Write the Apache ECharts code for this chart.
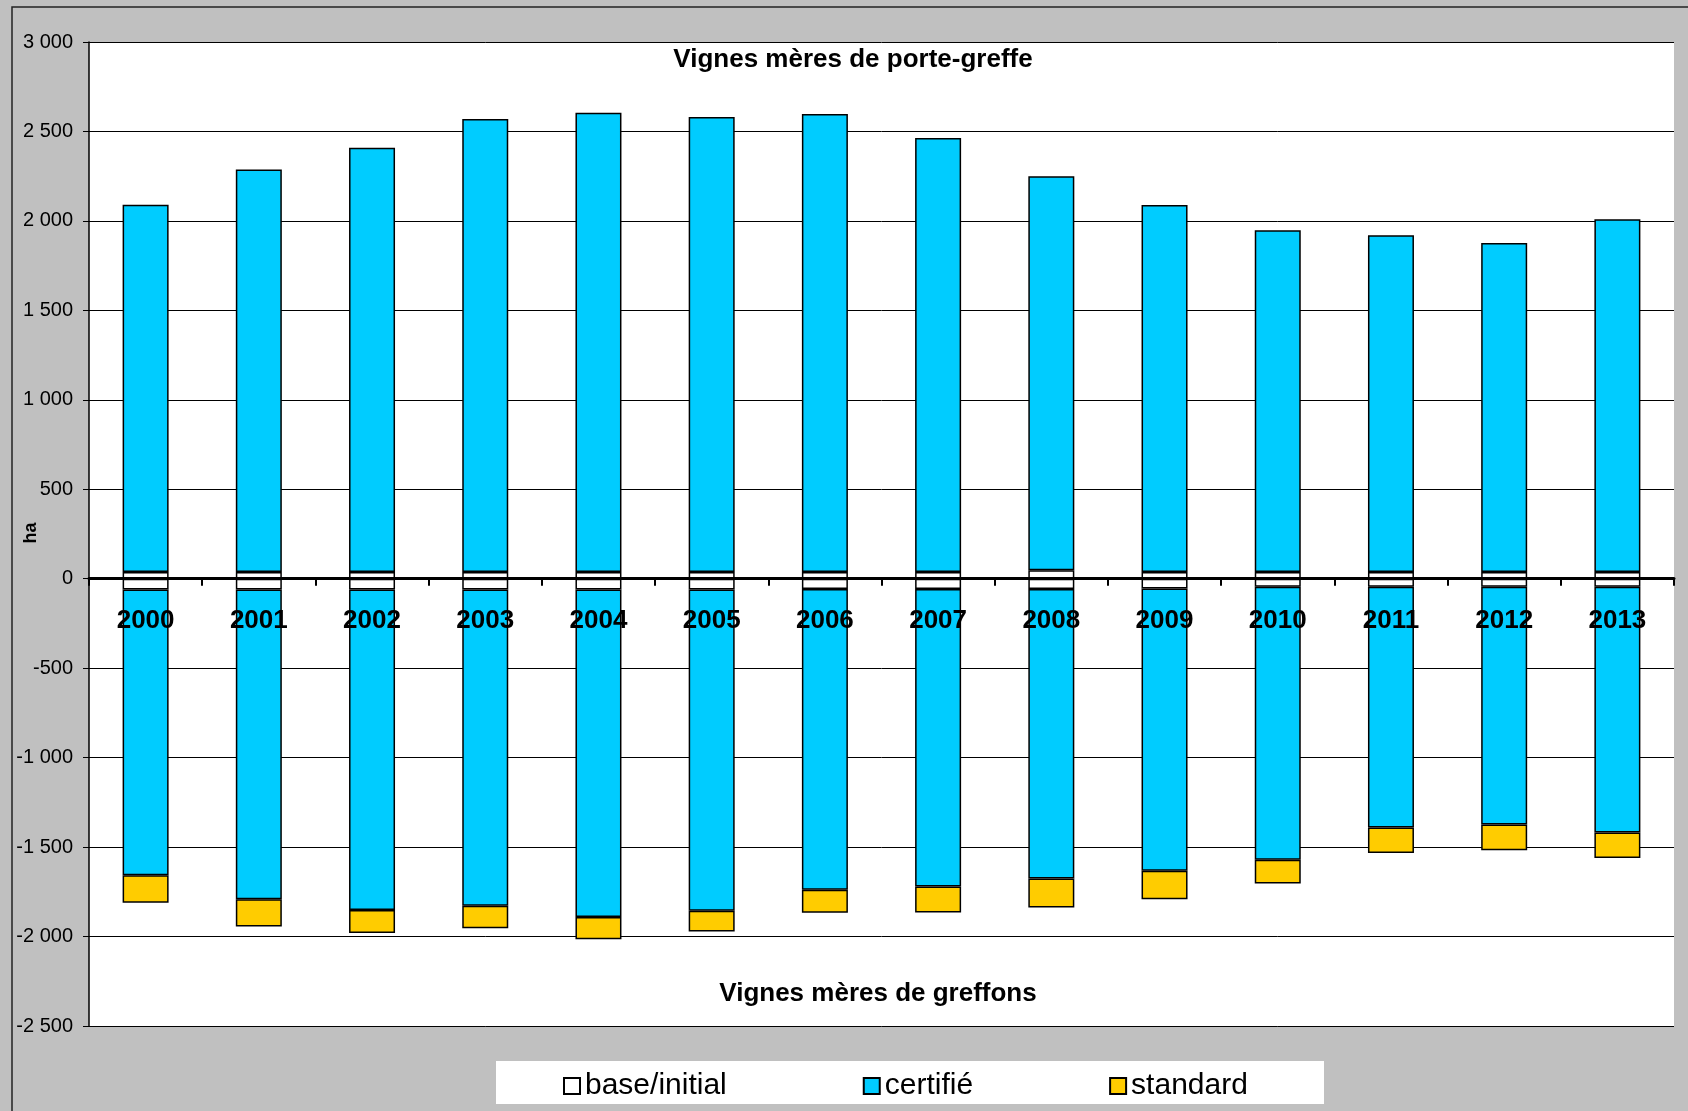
<!DOCTYPE html>
<html>
<head>
<meta charset="utf-8">
<script src="https://cdn.jsdelivr.net/npm/echarts@6/dist/echarts.min.js"></script>
<style>html,body{margin:0;padding:0;background:#c0c0c0}#c{width:1688px;height:1111px}</style>
</head>
<body>
<div id="c"></div>
<script>
var years = ['2000','2001','2002','2003','2004','2005','2006','2007','2008','2009','2010','2011','2012','2013'];
// Vignes mères de porte-greffe (positive)
var basePos = [38,38,38,38,38,38,38,38,48,38,38,38,38,38];
var certPos = [2053,2249,2371,2532,2567,2543,2560,2425,2202,2051,1910,1882,1838,1971];
// Vignes mères de greffons (negative)
var baseNeg = [-60,-60,-60,-60,-60,-60,-58,-58,-58,-55,-45,-45,-45,-45];
var certNeg = [-1598,-1731,-1792,-1768,-1831,-1796,-1681,-1662,-1618,-1577,-1526,-1346,-1329,-1374];
var stdNeg = [-153,-153,-128,-126,-124,-116,-128,-145,-161,-160,-133,-142,-143,-142];
var yTicks = {min:-2500, max:3000, interval:500};

var FONT = '"Liberation Sans", Arial, sans-serif';
function fmt(v){ var s = Math.abs(v).toString().replace(/\B(?=(\d{3})+(?!\d))/g,' '); return (v<0?'-':'') + s; }

var GRID = {left:89, right:14, top:42, bottom:85};
var plotH = 1111 - GRID.top - GRID.bottom;
// distance from plot bottom to the zero line, derived from the axis range
var zeroOffset = plotH * (0 - yTicks.min) / (yTicks.max - yTicks.min);

var chart = echarts.init(document.getElementById('c'), null, {renderer:'canvas'});
var border = {borderColor:'#000', borderWidth:1.5};
function bar(name, data, color){
  return {name:name, type:'bar', stack:'a', data:data, barWidth:46,
    itemStyle:Object.assign({color:color}, border), emphasis:{disabled:true}};
}
chart.setOption({
  backgroundColor:'#c0c0c0',
  animation:false,
  textStyle:{fontFamily:FONT},
  grid:{left:GRID.left, right:GRID.right, top:GRID.top, bottom:GRID.bottom, containLabel:false, outerBoundsMode:'none',
        show:true, backgroundColor:'#fff', borderWidth:0},
  legend:{
    data:['base/initial','certifié','standard'],
    left:558, top:1066, itemWidth:16, itemHeight:16, itemGap:136, icon:'rect',
    textStyle:{fontSize:30, color:'#000', fontFamily:FONT, padding:[0,0,0,0]},
    selectedMode:false
  },
  xAxis:{
    type:'category', data:years, z:10, position:'bottom', offset:-zeroOffset,
    axisLine:{onZero:false, lineStyle:{color:'#000', width:3}},
    axisTick:{show:true, length:7, lineStyle:{color:'#000', width:2}},
    axisLabel:{color:'#000', fontSize:26, fontWeight:'bold', margin:29, fontFamily:FONT},
    splitLine:{show:false}
  },
  yAxis:{
    type:'value', min:yTicks.min, max:yTicks.max, interval:yTicks.interval,
    axisLine:{show:true, lineStyle:{color:'#000', width:1.5}},
    axisTick:{show:true, length:6, lineStyle:{color:'#000'}},
    axisLabel:{color:'#000', fontSize:20, margin:16, formatter:fmt, fontFamily:FONT},
    splitLine:{show:true, lineStyle:{color:'#000', width:1}}
  },
  graphic:[
    {type:'rect', shape:{x:12, y:7, width:1700, height:1200}, style:{fill:null, stroke:'#222', lineWidth:1.5}, z:-1, silent:true},
    {type:'rect', shape:{x:496, y:1061, width:828, height:43}, style:{fill:'#fff'}, z:-1, silent:true},
    {type:'text', x:31, y:533, rotation:Math.PI/2, style:{text:'ha', fontSize:18, fontWeight:'bold', fill:'#000', textAlign:'center', textVerticalAlign:'middle', fontFamily:FONT}, z:20},
    {type:'text', x:853, y:60, style:{text:'Vignes mères de porte-greffe', fontSize:26, fontWeight:'bold', fill:'#000', textAlign:'center', textVerticalAlign:'middle', fontFamily:FONT}, z:20},
    {type:'text', x:878, y:994, style:{text:'Vignes mères de greffons', fontSize:26, fontWeight:'bold', fill:'#000', textAlign:'center', textVerticalAlign:'middle', fontFamily:FONT}, z:20}
  ],
  series:[
    bar('base/initial', basePos, '#ffffff'),
    bar('certifié', certPos, '#00ccff'),
    bar('base/initial', baseNeg, '#ffffff'),
    bar('certifié', certNeg, '#00ccff'),
    bar('standard', stdNeg, '#ffcc00')
  ]
});
</script>
</body>
</html>
